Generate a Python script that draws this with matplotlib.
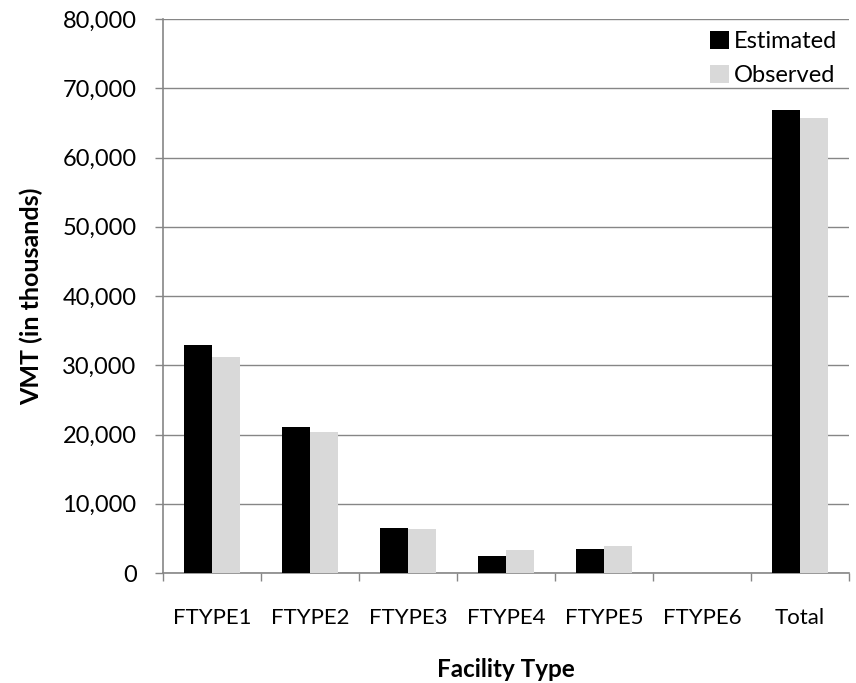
import matplotlib
matplotlib.use("Agg")
import matplotlib.pyplot as plt
import numpy as np
from matplotlib.ticker import FuncFormatter, MultipleLocator

plt.rcParams['font.family'] = ['Lato', 'DejaVu Sans']

categories = ["FTYPE1", "FTYPE2", "FTYPE3", "FTYPE4", "FTYPE5", "FTYPE6", "Total"]
estimated = [32900, 21130, 6500, 2400, 3520, 0, 66860]
observed = [31150, 20360, 6310, 3300, 3900, 0, 65660]

grid_col = "#868686"

fig = plt.figure(figsize=(8.56, 6.83), dpi=100)
ax = fig.add_axes([163 / 856, 1 - 573 / 683, 686 / 856, 554 / 683])

x = np.arange(len(categories))
w = 0.286
ax.bar(x - w / 2, estimated, width=w, color="black", label="Estimated", zorder=3)
ax.bar(x + w / 2, observed, width=w, color="#D9D9D9", label="Observed", zorder=3)

ax.set_xlim(-0.5, len(categories) - 0.5)
ax.set_ylim(0, 80000)
ax.yaxis.set_major_locator(MultipleLocator(10000))
ax.yaxis.set_major_formatter(FuncFormatter(lambda v, p: f"{int(v):,}"))
ax.yaxis.grid(True, color=grid_col, linewidth=1.0, zorder=0)
ax.set_axisbelow(True)

# category labels centred, tick marks between categories
ax.set_xticks(x)
ax.set_xticklabels(categories)
ax.tick_params(axis="x", length=0, pad=25, labelsize=16)
ax.set_xticks(np.arange(len(categories) + 1) - 0.5, minor=True)
ax.tick_params(axis="x", which="minor", length=6, width=1, color=grid_col, direction="out")
ax.tick_params(axis="y", length=6, width=1, color=grid_col, direction="out", labelsize=17, pad=13)

for s in ["top", "right"]:
    ax.spines[s].set_visible(False)
for s in ["left", "bottom"]:
    ax.spines[s].set_color(grid_col)
    ax.spines[s].set_linewidth(1.2)

ax.set_ylabel("VMT (in thousands)", fontsize=18, fontweight="bold", labelpad=14)
ax.set_xlabel("Facility Type", fontsize=17.5, fontweight="bold", labelpad=22)

leg = ax.legend(loc="upper right", frameon=False, fontsize=17, handlelength=0.8,
                handleheight=0.8, handletextpad=0.2, labelspacing=0.55,
                bbox_to_anchor=(1.0, 1.0), borderaxespad=0.2, borderpad=0.3)

fig.savefig("out.png", dpi=100)
